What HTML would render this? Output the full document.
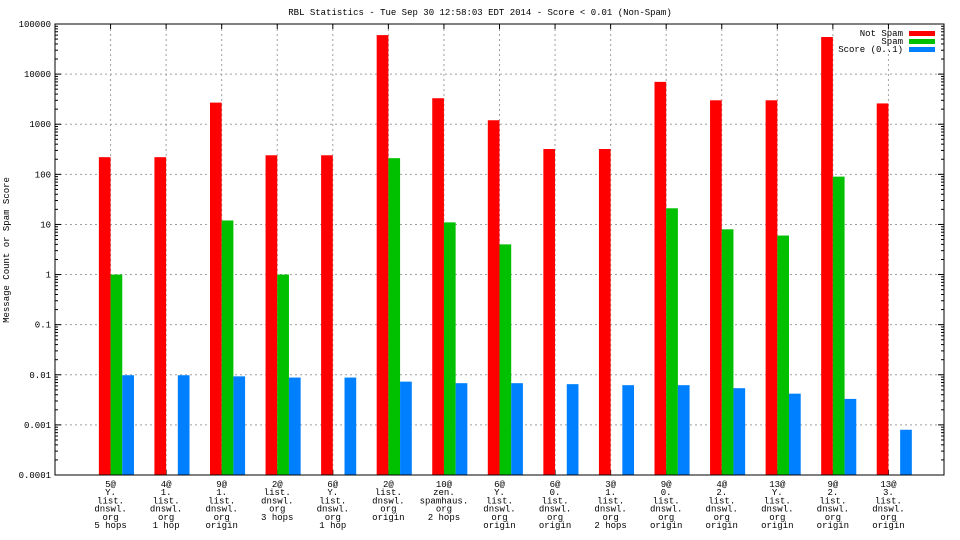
<!DOCTYPE html>
<html><head><meta charset="utf-8"><style>
body{margin:0;background:#fff;}
svg{display:block;}
text{font-family:"Liberation Mono","DejaVu Sans Mono",monospace;font-size:9px;fill:#000;}
</style></head><body>
<svg id="chart" width="960" height="540"></svg>
<script>
const categories=[
["5@","Y.","list.","dnswl.","org","5 hops"],
["4@","1.","list.","dnswl.","org","1 hop"],
["9@","1.","list.","dnswl.","org","origin"],
["2@","list.","dnswl.","org","3 hops"],
["6@","Y.","list.","dnswl.","org","1 hop"],
["2@","list.","dnswl.","org","origin"],
["10@","zen.","spamhaus.","org","2 hops"],
["6@","Y.","list.","dnswl.","org","origin"],
["6@","0.","list.","dnswl.","org","origin"],
["3@","1.","list.","dnswl.","org","2 hops"],
["9@","0.","list.","dnswl.","org","origin"],
["4@","2.","list.","dnswl.","org","origin"],
["13@","Y.","list.","dnswl.","org","origin"],
["9@","2.","list.","dnswl.","org","origin"],
["13@","3.","list.","dnswl.","org","origin"]];
const notSpam=[220,220,2700,240,240,60000,3300,1200,320,320,7000,3000,3000,55000,2600];
const spam=[1,null,12,1,null,210,11,4,null,null,21,8,6,90,null];
const score=[0.0098,0.0098,0.0093,0.0088,0.0088,0.0073,0.0068,0.0068,0.0065,0.0062,0.0062,0.0054,0.0042,0.0033,0.0008];
const yTicks=["0.0001","0.001","0.01","0.1","1","10","100","1000","10000","100000"];

const NS="http://www.w3.org/2000/svg";
const svg=document.getElementById('chart');
const L=55,R=944,T=24,B=475;
const yMin=-4,yMax=5;
function y(v){return B-(Math.log10(v)-yMin)/(yMax-yMin)*(B-T);}
const step=(R-L)/(categories.length+1);
function x(i){return L+step*(i+1);}
function mk(tag,attrs,parent){const e=document.createElementNS(NS,tag);for(const k in attrs)e.setAttribute(k,attrs[k]);(parent||svg).appendChild(e);return e;}

let t=mk('text',{x:480,y:15,'text-anchor':'middle'});


t.textContent="RBL Statistics - Tue Sep 30 12:58:03 EDT 2014 - Score < 0.01 (Non-Spam)";
t=mk('text',{x:0,y:0,'text-anchor':'middle',transform:'translate(9,250) rotate(-90)'});


t.textContent="Message Count or Spam Score";

yTicks.forEach((lab,k)=>{
  const v=parseFloat(lab),yy=y(v);
  if(k>0&&k<yTicks.length-1){const g=mk('line',{x1:L,x2:R,y1:yy,y2:yy,stroke:'#a0a0a0','stroke-dasharray':'2,3'});
  
  }
  mk('line',{x1:L,x2:L+6,y1:yy,y2:yy,stroke:'#000'});
  mk('line',{x1:R,x2:R-6,y1:yy,y2:yy,stroke:'#000'});
  if(k<yTicks.length-1){for(let m=2;m<10;m++){const my=y(v*m);
    mk('line',{x1:L,x2:L+3,y1:my,y2:my,stroke:'#000'});mk('line',{x1:R,x2:R-3,y1:my,y2:my,stroke:'#000'});}}
  const tl=mk('text',{x:L-4,y:yy+3,'text-anchor':'end'});
  
  
  tl.textContent=lab;
});
categories.forEach((lines,i)=>{
  const xx=x(i);
  const g=mk('line',{x1:xx,x2:xx,y1:T,y2:B,stroke:'#a0a0a0','stroke-dasharray':'2,3'});
  
  
  mk('line',{x1:xx,x2:xx,y1:T,y2:T+5,stroke:'#000'});
  mk('line',{x1:xx,x2:xx,y1:B,y2:B-5,stroke:'#000'});
  const tx=mk('text',{x:xx,y:487,'text-anchor':'middle'});
  
  
  lines.forEach((s,j)=>{const ts=mk('tspan',{x:xx,dy:j?8.2:0},tx);ts.textContent=s;});
});
const bw=11.7;
const series=[[notSpam,'#ff0000',-1,'bar-not-spam'],[spam,'#00c000',0,'bar-spam'],[score,'#0080ff',1,'bar-score']];
series.forEach(([arr,col,off,name])=>{
  arr.forEach((v,i)=>{
    if(v==null)return;
    const left=x(i)+off*bw, yy=y(v);
    const r=mk('rect',{x:left,y:yy,width:bw,height:B-yy,fill:col});
    
    
  });
});
const f=mk('rect',{x:L,y:T,width:R-L,height:B-T,fill:'none',stroke:'#000','stroke-width':1});


const leg=[["Not Spam",'#ff0000'],["Spam",'#00c000'],["Score (0..1)",'#0080ff']];
leg.forEach(([lab,col],k)=>{
  const yy=33+k*8;
  const lt=mk('text',{x:903,y:yy+3,'text-anchor':'end'});
  
  
  lt.textContent=lab;
  mk('rect',{x:909,y:yy-2,width:26,height:5,fill:col});
});
</script>
</body></html>
